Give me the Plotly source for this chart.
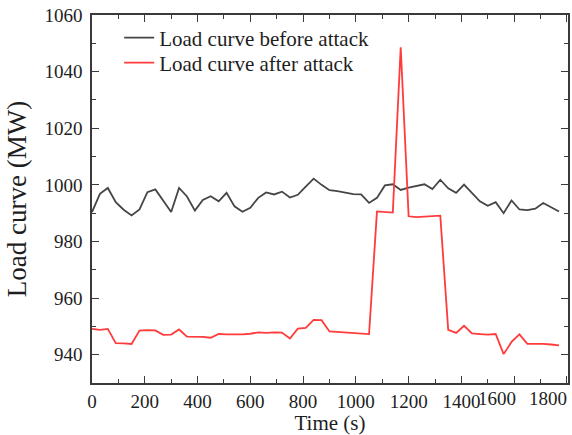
import plotly.graph_objects as go

# Time (s) and load (MW)
t_before = [0, 30, 60, 90, 120, 150, 180, 210, 240, 270, 300, 330, 360, 390, 420,
            450, 480, 510, 540, 570, 600, 630, 660, 690, 720, 750, 780, 810, 840, 870,
            900, 930, 990, 1020, 1050, 1080, 1110, 1140, 1170, 1200, 1230, 1260, 1290,
            1320, 1350, 1380, 1410, 1440, 1470, 1500, 1530, 1560, 1590, 1620, 1650,
            1680, 1710, 1740, 1770]
load_before = [990.4, 996.8, 998.9, 993.9, 991.2, 989.2, 991.3, 997.4, 998.4, 994.5,
               990.4, 998.9, 995.9, 990.9, 994.7, 996.0, 994.2, 997.2, 992.4, 990.5,
               991.9, 995.4, 997.3, 996.6, 997.6, 995.5, 996.5, 999.4, 1002.2, 1000.0,
               998.1, 997.8, 996.7, 996.6, 993.6, 995.4, 999.8, 1000.2, 998.2, 999.0,
               999.6, 1000.2, 998.5, 1001.8, 998.8, 997.2, 1000.1, 997.2, 994.2, 992.6,
               993.9, 990.0, 994.5, 991.3, 991.1, 991.6, 993.6, 992.1, 990.6]

t_after = [0, 30, 60, 90, 120, 150, 180, 210, 240, 270, 300, 330, 360, 390, 420,
           450, 480, 510, 540, 570, 600, 630, 660, 690, 720, 750, 780, 810, 840, 870,
           900, 1050, 1080, 1140, 1170, 1200, 1230, 1260, 1290, 1320, 1350, 1380, 1410,
           1440, 1470, 1500, 1530, 1560, 1590, 1620, 1650, 1680, 1710, 1740, 1770]
load_after = [949.1, 948.8, 949.1, 944.1, 944.0, 943.8, 948.5, 948.7, 948.6, 947.0,
              947.1, 948.9, 946.4, 946.4, 946.3, 946.0, 947.3, 947.2, 947.1, 947.2,
              947.4, 947.9, 947.7, 947.9, 947.8, 945.7, 949.2, 949.5, 952.3, 952.2,
              948.2, 947.3, 990.6, 990.2, 1048.6, 988.9, 988.6, 988.8, 988.8, 989.1,
              948.8, 947.7, 950.2, 947.5, 947.3, 947.1, 947.3, 940.2, 944.5, 947.2,
              943.8, 943.9, 943.8, 943.6, 943.3]

x_ticks = [0, 200, 400, 600, 800, 1000, 1200, 1400, 1600, 1800]
y_ticks = [940, 960, 980, 1000, 1020, 1040, 1060]

FONT = "Liberation Serif"
AX = "#3a3a3a"
TXT = "#1e1e1e"

fig = go.Figure()
fig.add_trace(go.Scatter(x=t_before, y=load_before, mode="lines",
                         name="Load curve before attack", legend="legend",
                         line=dict(color="#454545", width=1.8)))
fig.add_trace(go.Scatter(x=t_after, y=load_after, mode="lines",
                         name="Load curve after attack", legend="legend2",
                         line=dict(color="#ff3b3b", width=1.8)))

# last two x tick labels are drawn slightly left of their ticks in the reference
shifted = {1600: -17, 1800: -19}
ticktext = ["" if v in shifted else str(v) for v in x_ticks]
for v, sh in shifted.items():
    fig.add_annotation(x=v, xref="x", y=0, yref="paper", yanchor="top",
                       xshift=sh, yshift=-3, text=str(v), showarrow=False,
                       font=dict(family=FONT, size=19, color=TXT))

axis_common = dict(showline=True, linecolor=AX, linewidth=1.6, mirror="allticks",
                   ticks="inside", ticklen=7, tickwidth=1.4, tickcolor=AX,
                   showgrid=False, zeroline=False,
                   tickfont=dict(family=FONT, size=19, color=TXT))

fig.update_xaxes(range=[0, 1804], tickvals=x_ticks, ticktext=ticktext,
                 minor=dict(ticks="inside", ticklen=4, tickwidth=1.2, tickcolor=AX, dtick=100, tick0=0),
                 title=dict(text="Time (s)", font=dict(family=FONT, size=21, color=TXT), standoff=6),
                 **axis_common)
fig.update_yaxes(range=[930, 1060], tickvals=y_ticks, ticklabelstandoff=4,
                 minor=dict(ticks="inside", ticklen=4, tickwidth=1.2, tickcolor=AX, dtick=10, tick0=930),
                 title=dict(text="Load curve (MW)", font=dict(family=FONT, size=27, color=TXT), standoff=10),
                 **axis_common)

leg_common = dict(x=0.0571, xanchor="left", yanchor="middle", bgcolor="rgba(0,0,0,0)",
                  font=dict(family=FONT, size=21, color=TXT), itemwidth=30)
fig.update_layout(
    width=572, height=435,
    margin=dict(l=92, r=2, t=15, b=52),
    plot_bgcolor="white", paper_bgcolor="white",
    legend=dict(y=0.9376, **leg_common),
    legend2=dict(y=0.8697, **leg_common),
    showlegend=True,
)

fig.write_html("out.html")
